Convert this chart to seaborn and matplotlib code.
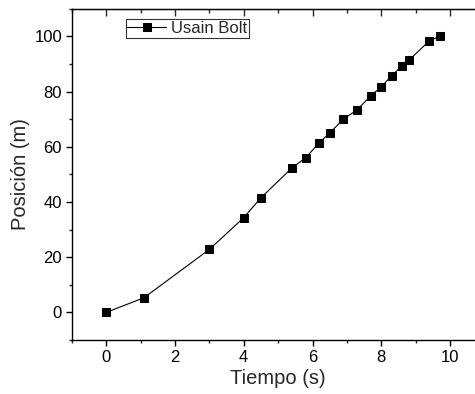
import matplotlib
matplotlib.use('Agg')
import matplotlib.pyplot as plt
import seaborn as sns
from matplotlib.ticker import MultipleLocator

# Usain Bolt splits
tiempo = [0, 1.1, 3.0, 4.0, 4.5, 5.4, 5.8, 6.2, 6.5, 6.9, 7.3, 7.7,
          8.0, 8.3, 8.6, 8.8, 9.4, 9.7]
posicion = [0, 5.3, 22.8, 34.3, 41.5, 52.3, 56.0, 61.5, 65.0, 70.0, 73.4,
            78.5, 81.7, 85.7, 89.3, 91.3, 98.4, 100.0]
serie = 'Usain Bolt'

sns.set_style("ticks")
plt.rcParams['font.family'] = ['Liberation Sans', 'DejaVu Sans']

fig = plt.figure(figsize=(4.75, 3.94), dpi=100)
ax = fig.add_axes([0.151, 0.137, 0.869, 0.841])

sns.lineplot(x=tiempo, y=posicion, ax=ax, color='black', linewidth=0.8,
             marker='s', markersize=6, markeredgecolor='black',
             markerfacecolor='black', label=serie)

ax.set_xlim(-1, 11)
ax.set_ylim(-10, 110)
ax.xaxis.set_major_locator(MultipleLocator(2))
ax.xaxis.set_minor_locator(MultipleLocator(1))
ax.yaxis.set_major_locator(MultipleLocator(20))
ax.yaxis.set_minor_locator(MultipleLocator(10))

for s in ax.spines.values():
    s.set_linewidth(1.0)
    s.set_color('black')

ax.tick_params(which='major', direction='out', length=4, width=1,
               labelsize=12, colors='black', pad=3)
ax.tick_params(which='minor', direction='out', length=2.5, width=1)

top = ax.secondary_xaxis('top')
top.xaxis.set_major_locator(MultipleLocator(2))
top.xaxis.set_minor_locator(MultipleLocator(1))
top.tick_params(which='major', direction='in', length=5, width=1,
                labeltop=False)
top.tick_params(which='minor', direction='in', length=3, width=1)

ax.set_xlabel('Tiempo (s)', fontsize=14.5, labelpad=3)
ax.set_ylabel('Posición (m)', fontsize=14.5, labelpad=3)

leg = ax.legend(loc='upper left', bbox_to_anchor=(0.131, 0.968),
                borderaxespad=0, fontsize=12, frameon=True, fancybox=False,
                handlelength=2.3, handletextpad=0.3, borderpad=0.1,
                markerscale=0.9)
leg.get_frame().set_edgecolor('black')
leg.get_frame().set_linewidth(0.8)

fig.savefig('out.png', dpi=100)
plt.close(fig)
